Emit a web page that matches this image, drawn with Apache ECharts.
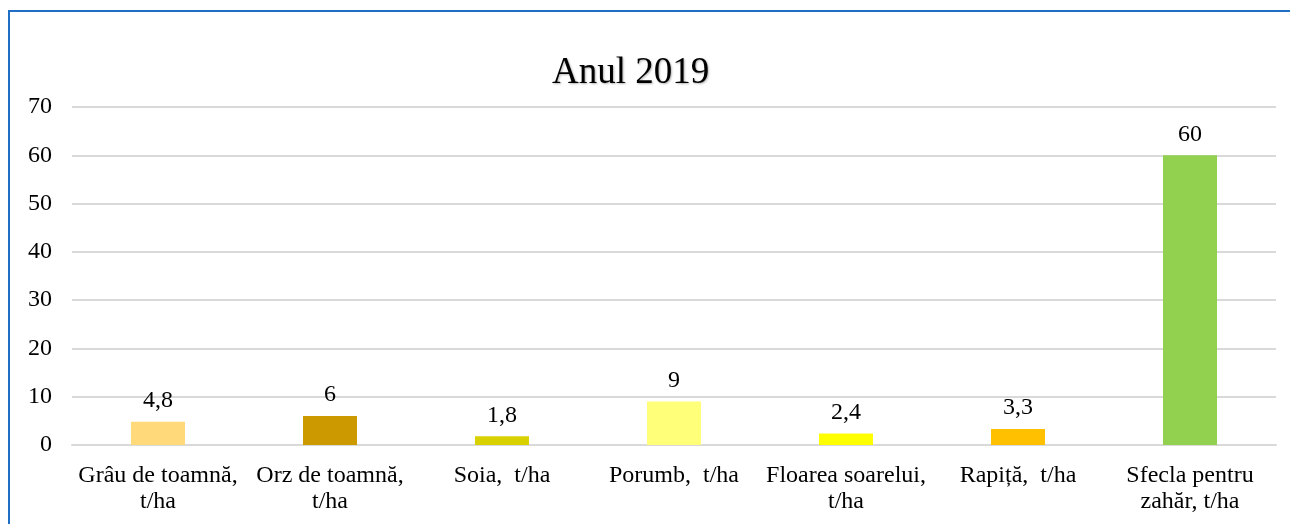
<!DOCTYPE html>
<html>
<head>
<meta charset="utf-8">
<script src="https://cdn.jsdelivr.net/npm/echarts@6/dist/echarts.min.js"></script>
<style>
  html, body { margin: 0; padding: 0; background: #fff; }
  #chart { width: 1290px; height: 524px; }
</style>
</head>
<body>
<div id="chart"></div>
<script>
// categories and values
const categories = [
  'Grâu de toamnă,\nt/ha',
  'Orz de toamnă,\nt/ha',
  'Soia,  t/ha',
  'Porumb,  t/ha',
  'Floarea soarelui,\nt/ha',
  'Rapiță,  t/ha',
  'Sfecla pentru\nzahăr, t/ha'
];
const values = [4.8, 6, 1.8, 9, 2.4, 3.3, 60];
const barColors = ['#FFD97A', '#CC9900', '#D9D000', '#FFFF79', '#FFFF00', '#FFC000', '#92D050'];

const chart = echarts.init(document.getElementById('chart'));

const font = '"Liberation Serif", "Times New Roman", serif';

chart.setOption({
  animation: false,
  textStyle: { fontFamily: font },
  title: {
    text: 'Anul 2019',
    left: 547,
    top: 50,
    textStyle: {
      fontFamily: font,
      fontSize: 37,
      fontWeight: 'normal',
      color: '#000',
      textShadowColor: 'rgba(0,0,0,0.3)',
      textShadowBlur: 2,
      textShadowOffsetX: 1,
      textShadowOffsetY: 1
    }
  },
  graphic: [{
    type: 'rect',
    shape: { x: 9, y: 11, width: 1400, height: 600 },
    style: { fill: 'none', stroke: '#1F6FC5', lineWidth: 2 },
    silent: true
  }],
  grid: { left: 72, right: 14, top: 107, bottom: 79 },
  xAxis: {
    type: 'category',
    data: categories,
    axisTick: { show: false },
    axisLine: { lineStyle: { color: '#D9D9D9', width: 2 } },
    axisLabel: {
      color: '#000',
      fontFamily: font,
      fontSize: 24,
      lineHeight: 26,
      margin: 18,
      interval: 0
    }
  },
  yAxis: {
    type: 'value',
    min: 0,
    max: 70,
    interval: 10,
    axisLine: { show: false },
    axisTick: { show: false },
    splitLine: { lineStyle: { color: '#D9D9D9', width: 2 } },
    axisLabel: {
      color: '#000',
      fontFamily: font,
      fontSize: 24,
      margin: 20
    }
  },
  series: [{
    type: 'bar',
    barWidth: 54,
    data: values.map((v, i) => ({ value: v, itemStyle: { color: barColors[i] } })),
    label: {
      show: true,
      position: 'top',
      distance: 9,
      color: '#000',
      fontFamily: font,
      fontSize: 24,
      formatter: p => String(p.value).replace('.', ',')
    }
  }]
});
</script>
</body>
</html>
